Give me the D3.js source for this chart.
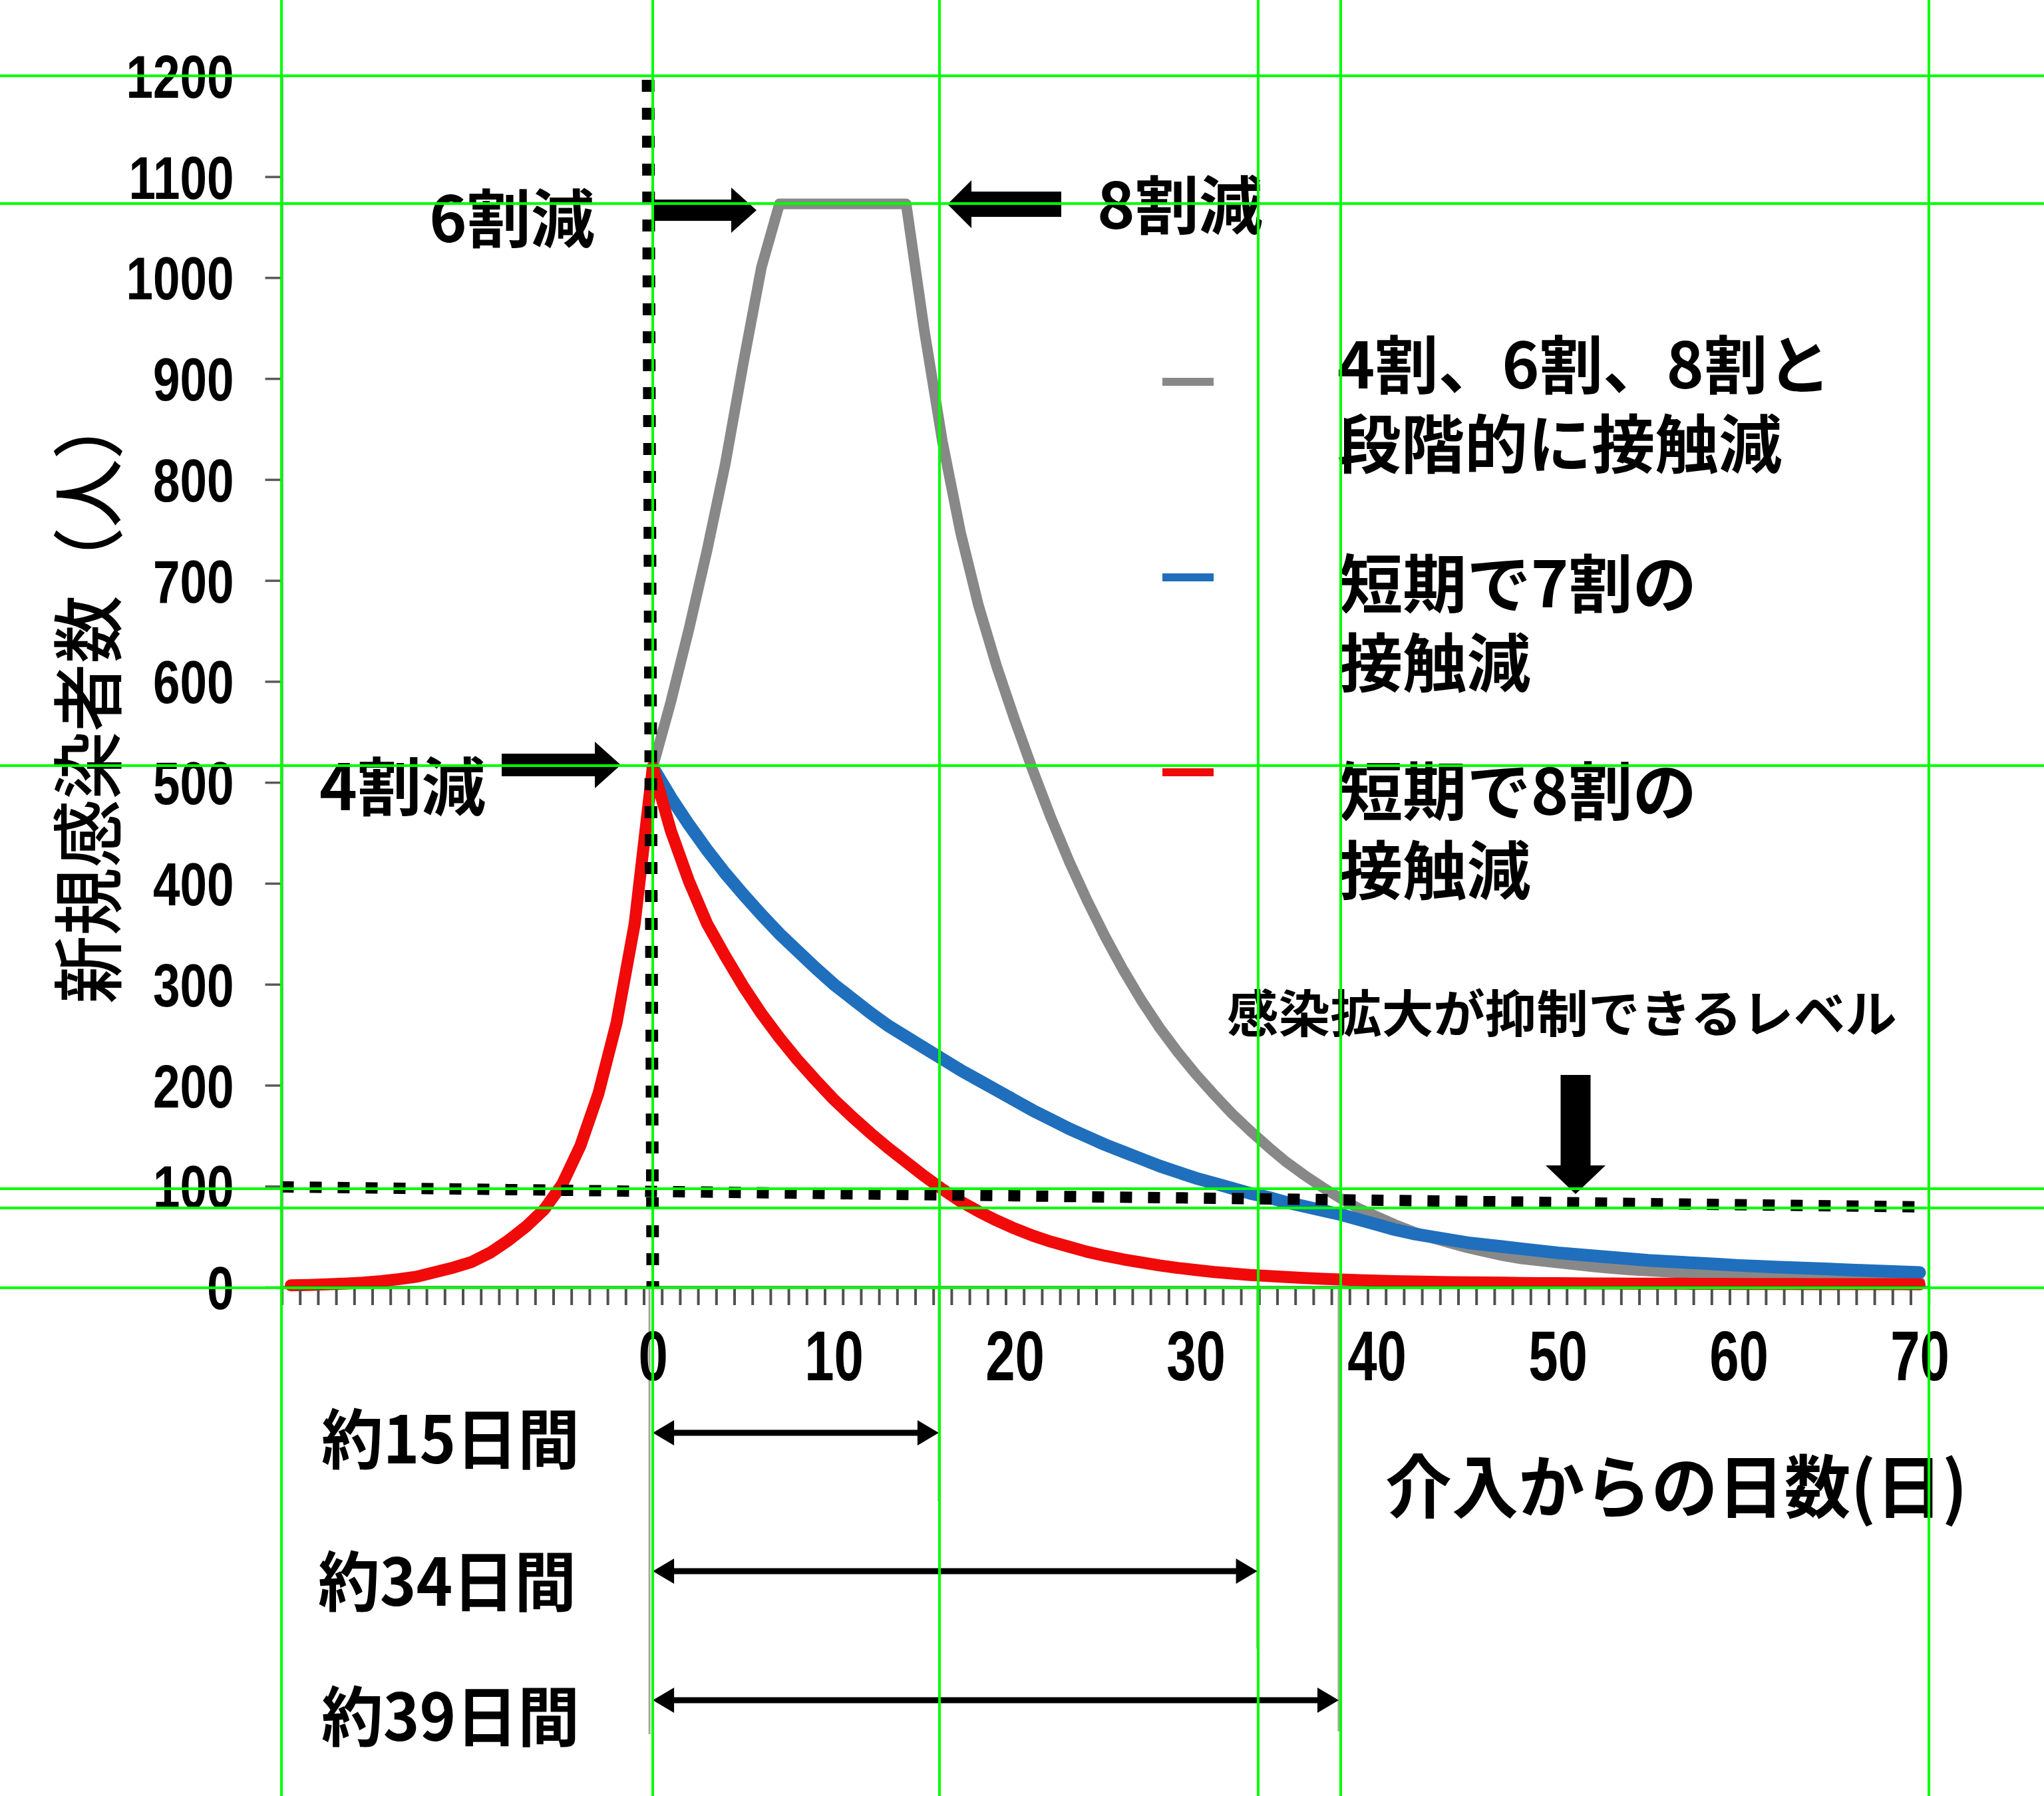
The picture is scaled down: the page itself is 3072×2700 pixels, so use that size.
<!DOCTYPE html>
<html><head><meta charset="utf-8">
<script src="https://cdn.jsdelivr.net/npm/d3@7"></script>
<style>html,body{margin:0;padding:0;background:#fff;} svg{display:block;}</style>
</head><body>
<svg id="chart" width="3072" height="2700"></svg>
<script>
// ---------------- DATA ----------------
const xTickLabels = [0, 10, 20, 30, 40, 50, 60, 70];
const yTickValues = [0, 100, 200, 300, 400, 500, 600, 700, 800, 900, 1000, 1100, 1200];
const xDomain = [-20.5, 70.5];           // category axis, days -20 .. 70
const yDomain = [0, 1200];

const redDays = d3.range(-20, 71);
const redValues = [
  1.8, 2.2, 2.8, 3.5, 4.5, 6, 8, 10.5, 15, 19.5,
  25, 34, 46, 60, 77, 102, 140, 192, 262, 360,
  515, 452, 402, 360, 328, 298, 271, 247, 225, 205,
  186, 169, 153, 138, 124, 110, 97, 85, 75, 66,
  58, 51, 45, 40, 35, 31, 27.5, 24.5, 21.5, 19,
  17, 15, 13.5, 12, 11, 10, 9, 8.2, 7.5, 7,
  6.5, 6, 5.6, 5.3, 5, 4.8, 4.6, 4.4, 4.2, 4,
  3.9, 3.8, 3.7, 3.6, 3.5, 3.5, 3.4, 3.4, 3.3, 3.3,
  3.2, 3.2, 3.1, 3.1, 3, 3, 3, 2.9, 2.9, 2.9, 2.8
];
const blueDays = d3.range(0, 71);
const blueValues = [
  515, 485, 458, 433, 410, 389, 369, 350, 333, 316,
  300, 286, 272, 259, 248, 237, 226, 215, 205, 195,
  185, 175, 166, 157, 149, 141, 134, 127, 120, 114,
  108, 103, 98, 93, 89, 84, 80, 76, 72, 67,
  62, 57, 53, 50, 47, 44, 42, 40, 38, 36,
  34, 32.5, 31, 29.5, 28, 26.5, 25.5, 24.5, 23.5, 22.5,
  21.5, 20.7, 20, 19.3, 18.6, 17.9, 17.2, 16.5, 15.8, 15.1, 14.5
];
const grayDays = d3.range(0, 71);
const grayValues = [
  515, 580, 652, 730, 815, 915, 1010, 1073, 1073, 1073,
  1073, 1073, 1073, 1073, 1073, 948, 838, 748, 675, 615,
  562, 512, 465, 422, 383, 347, 314, 284, 257, 233,
  211, 191, 172, 155, 139, 124, 111, 99, 88, 78,
  70, 62, 55, 49, 44, 39, 35, 31, 28, 26,
  24, 22, 20, 18.5, 17, 16, 15, 14, 13, 12,
  11, 10.2, 9.4, 8.7, 8, 7.4, 6.9, 6.4, 6, 5.7, 5.4
];
const levelValues = [100, 80];              // dotted "controllable level" line (start, end)
const durationDays = [15.8, 33.4, 37.9];
const durationLabels = ["約15日間", "約34日間", "約39日間"];
const seriesNames = [["4割、6割、8割と", "段階的に接触減"], ["短期で7割の", "接触減"], ["短期で8割の", "接触減"]];
const seriesColors = ["#888888", "#1f6fbd", "#f00a0a"];

// ---------------- DRAW ----------------
function draw() {
  const W = 3072, H = 2700;
  const M = {left: 423.5, right: 2898.7, top: 113.8, bottom: 1935};
  const JP = "'Noto Sans CJK JP','Noto Sans CJK SC',sans-serif";
  const NUM = "'Liberation Sans',Arial,sans-serif";
  const x = d3.scaleLinear().domain(xDomain).range([M.left, M.right]);
  const y = d3.scaleLinear().domain(yDomain).range([M.bottom, M.top]);
  const svg = d3.select("#chart");
  svg.append("rect").attr("width", W).attr("height", H).attr("fill", "#fff");

  function fitText(str, x0, x1, yc, size, weight, family, base) {
    const t = svg.append("text").text(str)
      .attr("font-family", family).attr("font-size", size).attr("font-weight", weight)
      .attr("x", 0).attr("y", base * size).attr("fill", "#000");
    const w = t.node().getComputedTextLength();
    t.attr("transform", `translate(${x0},${yc}) scale(${(x1 - x0) / w},1)`);
    return t;
  }
  // two-line text block sharing one horizontal scale (fit on first line)
  function fitBlock(lines, x0, x1, yc0, dy, size, weight, family, base) {
    const t = svg.append("text").attr("font-family", family).attr("font-size", size)
      .attr("font-weight", weight).attr("fill", "#000");
    const first = t.append("tspan").attr("x", 0).attr("y", base * size).text(lines[0]);
    const w = first.node().getComputedTextLength();
    lines.slice(1).forEach((l, i) => t.append("tspan").attr("x", 0).attr("y", base * size + dy * (i + 1)).text(l));
    t.attr("transform", `translate(${x0},${yc0}) scale(${(x1 - x0) / w},1)`);
    return t;
  }
  function arrowPath(x0, y0, x1, y1, sw, hl, hw, dbl) {
    const dx = x1 - x0, dy = y1 - y0, L = Math.hypot(dx, dy), ux = dx / L, uy = dy / L, nx = -uy, ny = ux;
    const P = (a, b) => [x0 + ux * a + nx * b, y0 + uy * a + ny * b];
    const pts = [];
    if (dbl) pts.push(P(0, 0), P(hl, hw / 2), P(hl, sw / 2)); else pts.push(P(0, sw / 2));
    pts.push(P(L - hl, sw / 2), P(L - hl, hw / 2), P(L, 0), P(L - hl, -hw / 2), P(L - hl, -sw / 2));
    if (dbl) pts.push(P(hl, -sw / 2), P(hl, -hw / 2)); else pts.push(P(0, -sw / 2));
    return "M" + pts.map(p => p.map(v => v.toFixed(1)).join(",")).join("L") + "Z";
  }

  // plot border
  svg.append("rect").attr("x", M.left).attr("y", M.top)
    .attr("width", M.right - M.left).attr("height", M.bottom - M.top)
    .attr("fill", "none").attr("stroke", "#c4c4c4").attr("stroke-width", 4);

  // thin guide lines below the axis
  const guideEnds = [2607, 2257, 2478, 2603];
  [0].concat(durationDays).forEach((d, i) => {
    const gx = i === 0 ? x(d) - 5 : x(d);
    svg.append("line").attr("x1", gx).attr("x2", gx).attr("y1", M.bottom).attr("y2", guideEnds[i])
      .attr("stroke", "#a6a6a6").attr("stroke-width", 3);
  });

  // series
  const line = d3.line().x(d => x(d[0])).y(d => y(d[1]));
  const series = [
    {days: grayDays, values: grayValues, color: seriesColors[0], w: 16},
    {days: blueDays, values: blueValues, color: seriesColors[1], w: 19},
    {days: redDays, values: redValues, color: seriesColors[2], w: 18}
  ];
  series.forEach(s => {
    svg.append("path").datum(d3.zip(s.days, s.values)).attr("d", line)
      .attr("fill", "none").attr("stroke", s.color).attr("stroke-width", s.w)
      .attr("stroke-linejoin", "round").attr("stroke-linecap", "round");
  });

  // y axis
  const yAxis = d3.axisLeft(y).tickValues(yTickValues).tickSize(25).tickSizeOuter(0).tickFormat(d3.format("d"));
  const gy = svg.append("g").attr("transform", `translate(${M.left},0)`).call(yAxis);
  gy.select(".domain").attr("stroke", "#595959").attr("stroke-width", 3);
  gy.selectAll(".tick line").attr("stroke", "#595959").attr("stroke-width", 3.5);
  const ysx = 0.8;
  gy.selectAll(".tick text").attr("font-family", NUM).attr("font-size", 91).attr("font-weight", 700)
    .attr("fill", "#000").attr("text-anchor", "end").attr("dy", null).attr("x", -72 / ysx).attr("y", 0.358 * 91)
    .attr("transform", `scale(${ysx},1)`);

  // x axis: ticks at category boundaries, labels at categories
  const xTickPos = d3.range(xDomain[0], xDomain[1] + 0.01, 1);
  const gx = svg.append("g").attr("transform", `translate(0,${M.bottom})`)
    .call(d3.axisBottom(x).tickValues(xTickPos).tickSize(27).tickSizeOuter(0).tickFormat(""));
  gx.select(".domain").attr("stroke", "#404040").attr("stroke-width", 4);
  gx.selectAll(".tick line").attr("stroke", "#505050").attr("stroke-width", 4);
  const xsx = 0.76;
  const gxl = svg.append("g").attr("transform", `translate(0,${M.bottom})`)
    .call(d3.axisBottom(x).tickValues(xTickLabels).tickSize(0).tickFormat(d3.format("d")));
  gxl.select(".domain").remove();
  gxl.selectAll(".tick text").attr("font-family", NUM).attr("font-size", 105).attr("font-weight", 700)
    .attr("fill", "#000").attr("dy", null).attr("y", 102 + 0.358 * 105).attr("transform", `scale(${xsx},1)`);

  // dotted level line (slightly tilted) and vertical intervention line
  svg.append("line").attr("x1", M.left).attr("x2", M.right)
    .attr("y1", y(levelValues[0]) + 1).attr("y2", y(levelValues[1]) + 1)
    .attr("stroke", "#000").attr("stroke-width", 17).attr("stroke-dasharray", "18,24");
  svg.append("line").attr("x1", x(0) - 7).attr("x2", x(0)).attr("y1", 120).attr("y2", M.bottom)
    .attr("stroke", "#000").attr("stroke-width", 19).attr("stroke-dasharray", "18,24");

  // annotation arrows
  const arrows = [
    [981, 316, 1137, 316, 32, 38, 68, false],
    [1595, 307, 1424, 307, 38, 36, 72, false],
    [754, 1150, 933, 1150, 34, 39, 70, false],
    [2368, 1616, 2368, 1795, 45, 43, 90, false]
  ];
  arrows.forEach(a => svg.append("path").attr("d", arrowPath(...a)).attr("fill", "#000"));
  const rowY = [2154, 2362, 2556];
  const rowLabelY = [2163, 2377, 2580];
  const rowLabelX = [[483, 871], [478, 866], [483, 871]];
  durationDays.forEach((d, i) => {
    svg.append("path").attr("d", arrowPath(x(0), rowY[i], x(d), rowY[i], 9, 32, 38, true)).attr("fill", "#000");
    fitText(durationLabels[i], rowLabelX[i][0], rowLabelX[i][1], rowLabelY[i], 98, 700, JP, 0.38);
  });

  // annotation texts
  fitText("6割減", 645, 894, 328, 96, 700, JP, 0.38);
  fitText("8割減", 1649, 1898, 308, 96, 700, JP, 0.38);
  fitText("4割減", 480, 730, 1182, 96, 700, JP, 0.38);
  fitText("感染拡大が抑制できるレベル", 1844, 2851, 1523, 76, 700, JP, 0.38);

  // legend
  const legSampleY = [574, 868, 1161];
  const legBlock = [[2010, 2752, 548], [2012, 2550, 877], [2012, 2550, 1189]];
  seriesNames.forEach((n, i) => {
    svg.append("line").attr("x1", 1747).attr("x2", 1824).attr("y1", legSampleY[i]).attr("y2", legSampleY[i])
      .attr("stroke", seriesColors[i]).attr("stroke-width", 12);
    fitBlock(n, legBlock[i][0], legBlock[i][1], legBlock[i][2], 119, 96, 700, JP, 0.38);
  });

  // axis titles
  fitText("介入からの日数(日)", 2082, 2957, 2234, 104, 700, JP, 0.38);
  const yt = svg.append("text").text("新規感染者数（人）")
    .attr("font-family", JP).attr("font-size", 108).attr("font-weight", 500)
    .attr("x", 0).attr("y", 0.38 * 108).attr("fill", "#000");
  const ytw = yt.node().getComputedTextLength();
  yt.attr("transform", `translate(132,1509) rotate(-90) scale(${(1509 - 588) / ytw},1)`);

  // green guide lines (overlay in the reference)
  const gH = [114, 306, 1151, 1787, 1816, 1936];
  const gV = [423, 981, 1412, 1891, 2015, 2899];
  gH.forEach(v => svg.append("line").attr("x1", 0).attr("x2", W).attr("y1", v).attr("y2", v)
    .attr("stroke", "#00ff00").attr("stroke-width", 4));
  gV.forEach(v => svg.append("line").attr("y1", 0).attr("y2", H).attr("x1", v).attr("x2", v)
    .attr("stroke", "#00ff00").attr("stroke-width", 4));
}
if (document.fonts && document.fonts.ready) document.fonts.ready.then(draw); else draw();
</script>
</body></html>
